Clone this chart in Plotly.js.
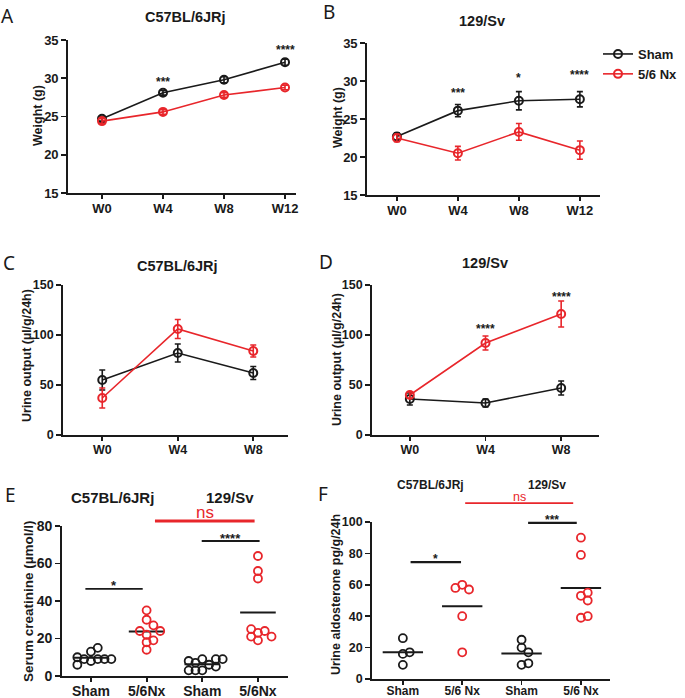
<!DOCTYPE html>
<html><head><meta charset="utf-8">
<script src="https://cdn.plot.ly/plotly-3.0.1.min.js"></script>
<style>html,body{margin:0;padding:0;background:#fff}#chart{width:685px;height:698px}</style>
</head><body><div id="chart"></div>
<script>
// ---------------- data ----------------
const weeks4 = ['W0', 'W4', 'W8', 'W12'];
const weeks3 = ['W0', 'W4', 'W8'];
const seriesNames = ['Sham', '5/6 Nx'];

const weightC57Sham = [24.7, 28.1, 29.8, 32.1];
const weightC57ShamErr = [0.3, 0.3, 0.4, 0.4];
const weightC57Nx = [24.4, 25.6, 27.8, 28.8];
const weightC57NxErr = [0.3, 0.3, 0.3, 0.3];

const weight129Sham = [22.7, 26.1, 27.4, 27.6];
const weight129ShamErr = [0.5, 0.8, 1.2, 1.0];
const weight129Nx = [22.5, 20.5, 23.3, 20.9];
const weight129NxErr = [0.5, 0.9, 1.1, 1.2];

const urineC57Sham = [55, 82, 62];
const urineC57ShamErr = [10, 9, 6.5];
const urineC57Nx = [37, 106, 84];
const urineC57NxErr = [10, 9.5, 6];

const urine129Sham = [36, 32, 47];
const urine129ShamErr = [6, 4, 7];
const urine129Nx = [40, 92, 121];
const urine129NxErr = [3, 7, 13];

const creatGroups = ['Sham', '5/6Nx', 'Sham', '5/6Nx'];
const creatC57Sham = [8, 9, 9, 9, 10, 9, 6, 13, 15];
const creatC57Nx = [35, 30, 27, 22, 24, 24, 18, 19, 14];
const creat129Sham = [9, 6, 7, 9, 8, 9, 3, 3, 5, 3];
const creat129Nx = [64, 56, 52, 23, 19, 24, 21, 25, 21];

const aldoGroups = ['Sham', '5/6 Nx', 'Sham', '5/6 Nx'];
const aldoC57Sham = [26, 16, 9, 17];
const aldoC57Nx = [60, 57, 58, 40, 17];
const aldo129Sham = [25, 20, 17, 9, 10];
const aldo129Nx = [90, 79, 53, 55, 50, 39, 40];

const strainNames = ['C57BL/6JRj', '129/Sv'];

// ---------------- layout geometry (pixels) ----------------
const W = 685, H = 698;
const G = {
  A: {l: 68, r: 296, t: 40, b: 193, xr: [-0.557, 3.18], yr: [15, 35]},
  B: {l: 367, r: 600, t: 43, b: 195, xr: [-0.49, 3.33], yr: [15, 35]},
  C: {l: 63, r: 288, t: 285, b: 435, xr: [-0.52, 2.46], yr: [0, 150]},
  D: {l: 372, r: 599, t: 285, b: 435, xr: [-0.50, 2.50], yr: [0, 150]},
  E: {l: 62, r: 288, t: 526, b: 676, xr: [-0.52, 3.54], yr: [0, 80]},
  F: {l: 372, r: 610, t: 522, b: 679, xr: [-0.52, 3.49], yr: [0, 100]}
};
const px = x => x / W;
const py = y => 1 - y / H;
const dx = (g, v) => px(g.l + (v - g.xr[0]) * (g.r - g.l) / (g.xr[1] - g.xr[0]));
const dy = (g, v) => py(g.b - (v - g.yr[0]) * (g.b - g.t) / (g.yr[1] - g.yr[0]));

const FONT = 'Liberation Sans, Arial, sans-serif';
const INK = '#1a1a1a';
const RED = '#e8262b';

// ---------------- helpers ----------------
function lineTrace(xcats, y, err, color, ax, name, showlegend) {
  return {
    type: 'scatter', mode: 'lines+markers', x: xcats, y: y,
    xaxis: ax.x, yaxis: ax.y, name: name, showlegend: showlegend,
    line: {color: color, width: 1.6},
    marker: {symbol: 'circle-open', size: 8, color: color, line: {width: 2, color: color}},
    error_y: {type: 'data', array: err, visible: true, color: color, thickness: 1.6, width: 3},
    cliponaxis: false, hoverinfo: 'skip'
  };
}
function swarm(vals, center, g, stepPx, minDist) {
  const pxX = (g.r - g.l) / (g.xr[1] - g.xr[0]);
  const pxY = (g.b - g.t) / (g.yr[1] - g.yr[0]);
  const placed = [], xs = [];
  vals.forEach(v => {
    const yy = v * pxY;
    for (let k = 0; k < 80; k++) {
      const off = k === 0 ? 0 : (k % 2 ? 1 : -1) * Math.ceil(k / 2) * stepPx;
      if (placed.every(p => Math.hypot(p[0] - off, p[1] - yy) >= minDist)) {
        placed.push([off, yy]); xs.push(center + off / pxX); break;
      }
    }
  });
  return xs;
}
const mean = a => a.reduce((s, v) => s + v, 0) / a.length;
function dotTraces(vals, center, g, color, ax, half) {
  const m = mean(vals);
  return [
    {type: 'scatter', mode: 'lines', x: [center - half, center + half], y: [m, m],
     xaxis: ax.x, yaxis: ax.y, showlegend: false, hoverinfo: 'skip',
     line: {color: INK, width: 2}},
    {type: 'scatter', mode: 'markers', x: swarm(vals, center, g, 3.4, 6.6), y: vals,
     xaxis: ax.x, yaxis: ax.y, showlegend: false, hoverinfo: 'skip', cliponaxis: false,
     marker: {symbol: 'circle-open', size: 8, color: color, line: {width: 1.8, color: color}}}
  ];
}

// ---------------- traces ----------------
const axA = {x: 'x', y: 'y'}, axB = {x: 'x2', y: 'y2'}, axC = {x: 'x3', y: 'y3'},
      axD = {x: 'x4', y: 'y4'}, axE = {x: 'x5', y: 'y5'}, axF = {x: 'x6', y: 'y6'};
const traces = [
  lineTrace(weeks4, weightC57Sham, weightC57ShamErr, INK, axA, seriesNames[0], true),
  lineTrace(weeks4, weightC57Nx, weightC57NxErr, RED, axA, seriesNames[1], true),
  lineTrace(weeks4, weight129Sham, weight129ShamErr, INK, axB, seriesNames[0], false),
  lineTrace(weeks4, weight129Nx, weight129NxErr, RED, axB, seriesNames[1], false),
  lineTrace(weeks3, urineC57Sham, urineC57ShamErr, INK, axC, seriesNames[0], false),
  lineTrace(weeks3, urineC57Nx, urineC57NxErr, RED, axC, seriesNames[1], false),
  lineTrace(weeks3, urine129Sham, urine129ShamErr, INK, axD, seriesNames[0], false),
  lineTrace(weeks3, urine129Nx, urine129NxErr, RED, axD, seriesNames[1], false),
  ...dotTraces(creatC57Sham, 0, G.E, INK, axE, 0.32),
  ...dotTraces(creatC57Nx, 1, G.E, RED, axE, 0.32),
  ...dotTraces(creat129Sham, 2, G.E, INK, axE, 0.32),
  ...dotTraces(creat129Nx, 3, G.E, RED, axE, 0.32),
  ...dotTraces(aldoC57Sham, 0, G.F, INK, axF, 0.34),
  ...dotTraces(aldoC57Nx, 1, G.F, RED, axF, 0.34),
  ...dotTraces(aldo129Sham, 2, G.F, INK, axF, 0.34),
  ...dotTraces(aldo129Nx, 3, G.F, RED, axF, 0.34)
];

// ---------------- axes ----------------
function xAxis(g, cats, size, numeric, anchor, standoff) {
  const a = {
    domain: [px(g.l), px(g.r)], range: g.xr, anchor: anchor,
    showline: true, linecolor: INK, linewidth: 1.8, ticks: 'outside', ticklen: 4,
    tickwidth: 1.8, tickcolor: INK, showgrid: false, zeroline: false, fixedrange: true,
    ticklabelstandoff: standoff || 0,
    tickfont: {family: FONT, size: size, color: INK, weight: 'bold'}
  };
  if (numeric) { a.type = 'linear'; a.tickmode = 'array'; a.tickvals = cats.map((c, i) => i); a.ticktext = cats; }
  else { a.type = 'category'; a.categoryarray = cats; a.categoryorder = 'array'; }
  return a;
}
function yAxis(g, tickvals, size, anchor) {
  return {
    domain: [py(g.b), py(g.t)], range: g.yr, anchor: anchor,
    showline: true, linecolor: INK, linewidth: 1.8, ticks: 'outside', ticklen: 5,
    tickwidth: 1.8, tickcolor: INK, showgrid: false, zeroline: false, fixedrange: true,
    tickmode: 'array', tickvals: tickvals,
    tickfont: {family: FONT, size: size, color: INK, weight: 'bold'}
  };
}

// ---------------- annotations ----------------
const ann = [];
function txt(x, y, text, size, opts) {
  ann.push(Object.assign({xref: 'paper', yref: 'paper', x: x, y: y, text: text, showarrow: false,
    xanchor: 'center', yanchor: 'middle',
    font: {family: FONT, size: size, color: INK, weight: 'bold'}}, opts || {}));
}
// panel letters
[['A', 8, 16], ['B', 329, 12], ['C', 9, 263], ['D', 326, 262], ['E', 10, 495], ['F', 323, 494]]
  .forEach(([t, x, y]) => txt(px(x), py(y), t, 19, {font: {family: 'Noto Sans, Open Sans, sans-serif', size: 19, color: INK, weight: 'normal'}}));
// titles
txt(px(185), py(17), strainNames[0], 14.5);
txt(px(482), py(21), strainNames[1], 14.5);
txt(px(177), py(266), strainNames[0], 14.5);
txt(px(485), py(263), strainNames[1], 14.5);
txt(px(113), py(497), strainNames[0], 15);
txt(px(230), py(497), strainNames[1], 15);
txt(px(430), py(485), strainNames[0], 12);
txt(px(547), py(485), strainNames[1], 12);
// y-axis titles
txt(px(38), py(116), 'Weight (g)', 12.5, {textangle: -90});
txt(px(338), py(118), 'Weight (g)', 12.5, {textangle: -90});
txt(px(27), py(356), 'Urine output (µl/g/24h)', 12.5, {textangle: -90});
txt(px(337), py(360), 'Urine output (µl/g/24h)', 12.5, {textangle: -90});
txt(px(28), py(601), 'Serum creatinine (µmol/l)', 13.5, {textangle: -90});
txt(px(336), py(595), 'Urine aldosterone pg/g/24h', 12.5, {textangle: -90});
// significance stars on line panels (glyph centre in data units)
function star(g, idx, val, s, size) { txt(dx(g, idx), dy(g, val), s, size || 12, {yshift: -3}); }
star(G.A, 1, 29.9, '***'); star(G.A, 3, 34.1, '****');
star(G.B, 1, 28.8, '***'); star(G.B, 2, 30.8, '*'); star(G.B, 3, 31.2, '****');
star(G.D, 1, 109, '****'); star(G.D, 2, 141, '****');

// significance bars on dot panels
const shapes = [];
function sigBar(g, x0, x1, val, color, width, label, lsize) {
  shapes.push({type: 'line', xref: 'paper', yref: 'paper', x0: dx(g, x0), x1: dx(g, x1),
    y0: dy(g, val), y1: dy(g, val), line: {color: color, width: width}});
  if (label === 'ns') {
    txt((dx(g, x0) + dx(g, x1)) / 2, dy(g, val), label, lsize,
      {yanchor: 'bottom', yshift: -3, font: {family: FONT, size: lsize, color: color, weight: 'normal'}});
  } else {
    txt((dx(g, x0) + dx(g, x1)) / 2, dy(g, val), label, lsize, {yshift: 3});
  }
}
sigBar(G.E, -0.1, 0.93, 46.5, INK, 1.8, '*', 13);
sigBar(G.E, 1.99, 3.03, 72, INK, 1.8, '****', 13);
sigBar(G.E, 1.15, 2.94, 82.7, RED, 3, 'ns', 17);
sigBar(G.F, 0.13, 0.98, 74.5, INK, 2.2, '*', 12);
sigBar(G.F, 2.11, 2.93, 99.4, INK, 2.2, '***', 12);
sigBar(G.F, 1.05, 2.87, 112, RED, 1.8, 'ns', 12.5);

// ---------------- layout ----------------
const layout = {
  width: W, height: H, margin: {l: 0, r: 0, t: 0, b: 0},
  paper_bgcolor: '#fff', plot_bgcolor: 'rgba(0,0,0,0)',
  font: {family: FONT, color: INK},
  showlegend: true,
  legend: {x: px(598), y: py(39), xanchor: 'left', yanchor: 'top', bgcolor: 'rgba(0,0,0,0)',
    font: {family: FONT, size: 13, color: INK, weight: 'bold'}, itemwidth: 30, tracegroupgap: 0},
  xaxis: xAxis(G.A, weeks4, 13, false, 'y', -1),
  yaxis: yAxis(G.A, [15, 20, 25, 30, 35], 13, 'x'),
  xaxis2: xAxis(G.B, weeks4, 13, false, 'y2', -1),
  yaxis2: yAxis(G.B, [15, 20, 25, 30, 35], 13, 'x2'),
  xaxis3: xAxis(G.C, weeks3, 12.5, false, 'y3', -2),
  yaxis3: yAxis(G.C, [0, 50, 100, 150], 12.5, 'x3'),
  xaxis4: xAxis(G.D, weeks3, 12.5, false, 'y4', -2),
  yaxis4: yAxis(G.D, [0, 50, 100, 150], 12.5, 'x4'),
  xaxis5: xAxis(G.E, creatGroups, 14, true, 'y5', -3),
  yaxis5: yAxis(G.E, [0, 20, 40, 60, 80], 14, 'x5'),
  xaxis6: xAxis(G.F, aldoGroups, 12, true, 'y6', -4),
  yaxis6: yAxis(G.F, [0, 20, 40, 60, 80, 100], 12.5, 'x6'),
  annotations: ann, shapes: shapes
};

Plotly.newPlot('chart', traces, layout, {staticPlot: true, displayModeBar: false});
</script></body></html>
